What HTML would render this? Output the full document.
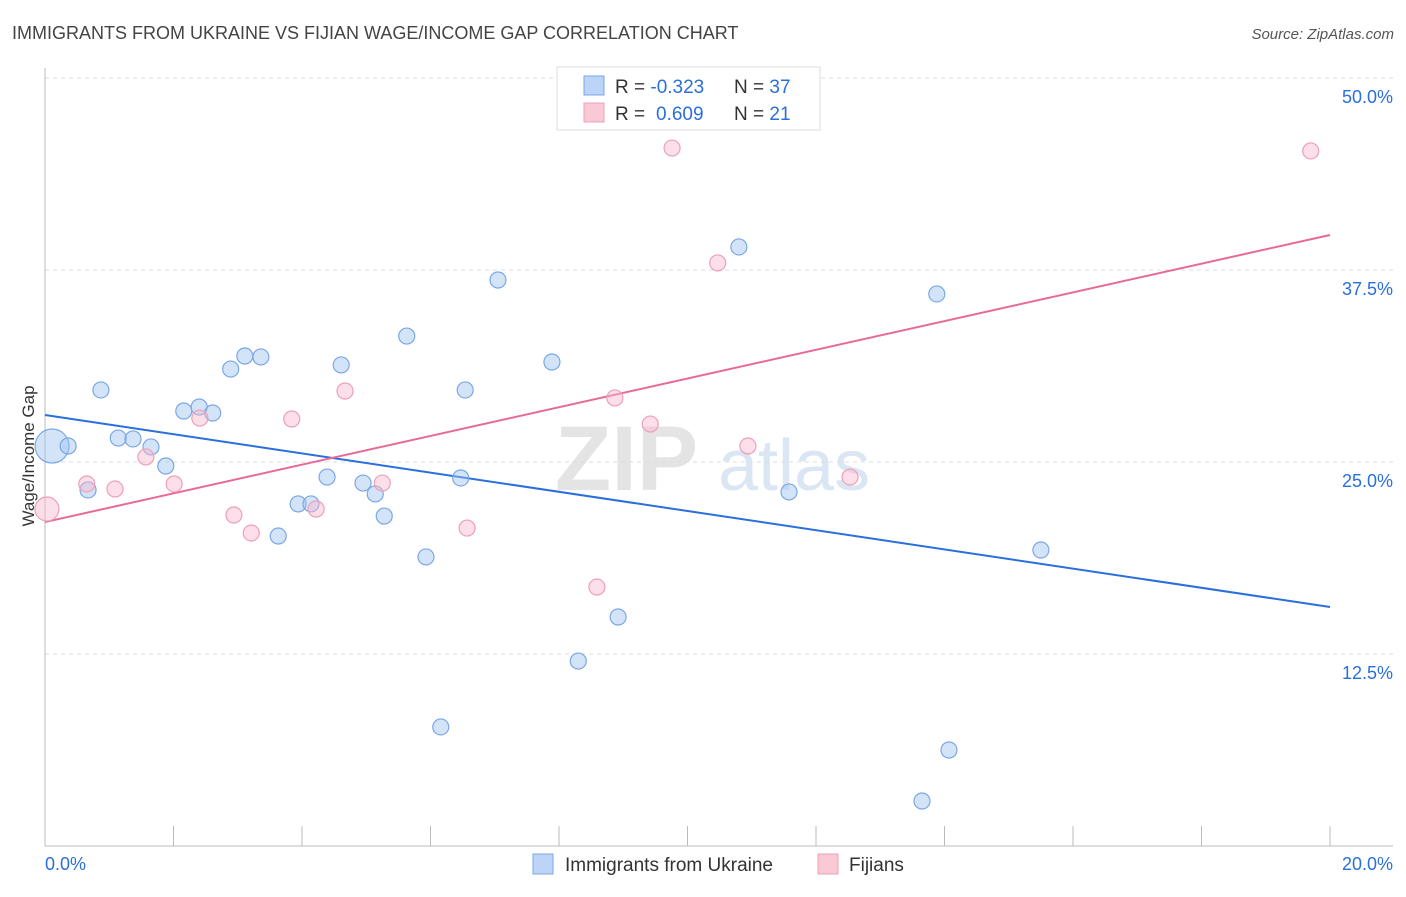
<!DOCTYPE html>
<html><head><meta charset="utf-8"><style>
body{margin:0;background:#fff;font-family:"Liberation Sans",sans-serif;}
svg text{font-family:"Liberation Sans",sans-serif;}
</style></head><body>
<svg id="chart" width="1406" height="892" xmlns="http://www.w3.org/2000/svg">
<text x="12" y="39" font-size="18" fill="#444">IMMIGRANTS FROM UKRAINE VS FIJIAN WAGE/INCOME GAP CORRELATION CHART</text>
<text x="1394" y="39" font-size="15" fill="#555" text-anchor="end" font-style="italic">Source: ZipAtlas.com</text>
<g>
<text x="555" y="490" font-size="92" fill="#e4e4e4" font-family="Liberation Serif" font-weight="bold">ZIP</text>
<text x="718" y="490" font-size="72" fill="#dbe6f5">atlas</text>
</g>
<g id="grid"></g>
<g id="axes"></g>
<g id="lines"></g>
<g id="points"></g>
<text transform="translate(34,456) rotate(-90)" font-size="17" fill="#333" text-anchor="middle">Wage/Income Gap</text>
<g>
<rect x="557" y="67" width="263" height="63" fill="#fff" stroke="#ddd"/>
<rect x="584" y="76" width="20" height="19" fill="#bcd4f5" stroke="#7aa7e6"/>
<rect x="584" y="103" width="20" height="19" fill="#f9c9d6" stroke="#eda0b6"/>
<text x="615" y="93" font-size="19" fill="#333">R = <tspan fill="#2a6fdb">-0.323</tspan><tspan x="734">N = </tspan><tspan fill="#2a6fdb">37</tspan></text>
<text x="615" y="120" font-size="19" fill="#333">R = <tspan x="656" fill="#2a6fdb">0.609</tspan><tspan x="734">N = </tspan><tspan fill="#2a6fdb"> 21</tspan></text>
</g>
<g>
<rect x="533" y="854" width="20" height="20" fill="#bcd4f5" stroke="#7aa7e6"/>
<text x="565" y="871" font-size="19" fill="#333">Immigrants from Ukraine</text>
<rect x="818" y="854" width="20" height="20" fill="#f9c9d6" stroke="#eda0b6"/>
<text x="849" y="871" font-size="19" fill="#333">Fijians</text>
</g>
</svg>
<script>
const ukrX=[0.11,0.36,0.67,0.87,1.14,1.37,1.65,1.88,2.16,2.40,2.61,2.89,3.11,3.36,3.63,3.94,4.14,4.39,4.61,4.95,5.14,5.28,5.63,5.93,6.16,6.47,6.54,7.05,7.89,8.30,8.92,10.80,11.58,13.65,13.88,14.07,15.50];
const ukrY=[26.04,26.04,23.18,29.69,26.56,26.50,25.98,24.74,28.32,28.58,28.19,31.05,31.90,31.84,20.18,22.27,22.27,24.02,31.32,23.63,22.92,21.48,33.20,18.82,7.75,23.96,29.69,36.85,31.51,12.04,14.91,39.00,23.05,2.93,35.94,6.25,19.27];
const fijX=[0.03,0.65,1.09,1.57,2.01,2.41,2.94,3.21,3.84,4.22,4.67,5.25,6.57,8.59,8.87,9.42,9.76,10.47,10.94,12.53,19.70];
const fijY=[21.94,23.57,23.24,25.33,23.57,27.86,21.55,20.38,27.80,21.94,29.62,23.63,20.70,16.86,29.17,27.47,45.44,37.96,26.04,24.02,45.25];
const ukrTrend=[28.06,15.56];
const fijTrend=[21.09,39.78];
const yTicks=[12.5,25,37.5,50];
const xTickLabels=["0.0%","20.0%"];
const ns="http://www.w3.org/2000/svg";
const X=v=>45+v/20*1285, Y=v=>846-v/50*768;
function mk(tag,attrs,parent){const e=document.createElementNS(ns,tag);for(const k in attrs)e.setAttribute(k,attrs[k]);document.getElementById(parent).appendChild(e);return e;}
yTicks.forEach(t=>{
 const l=mk('line',{x1:45,x2:1393,y1:Y(t),y2:Y(t),stroke:'#ddd','stroke-dasharray':'4,4'},'grid');
 
 
 const tx=mk('text',{x:1393,y:Y(t)+25,'font-size':18,fill:'#2a6fdb','text-anchor':'end'},'grid');
 tx.textContent=t.toFixed(1)+'%';
 
 
});
mk('line',{x1:45,x2:45,y1:68,y2:846,stroke:'#bbb'},'axes');
mk('line',{x1:45,x2:1393,y1:846,y2:846,stroke:'#bbb'},'axes');
for(let i=0;i<=10;i++){const t=mk('line',{x1:X(i*2),x2:X(i*2),y1:826,y2:846,stroke:'#bbb'},'axes');
 
 }
[[0,'start'],[20,'end']].forEach((p,i)=>{const t=mk('text',{x:p[0]==0?45:1393,y:870,'font-size':18,fill:'#2a6fdb','text-anchor':p[1]},'axes');t.textContent=xTickLabels[i];
 
 });
const bl=mk('line',{x1:X(0),y1:Y(ukrTrend[0]),x2:X(20),y2:Y(ukrTrend[1]),stroke:'#2a6fdb','stroke-width':2},'lines');


const pl=mk('line',{x1:X(0),y1:Y(fijTrend[0]),x2:X(20),y2:Y(fijTrend[1]),stroke:'#e86a94','stroke-width':2},'lines');


ukrX.forEach((x,i)=>{const c=mk('circle',{cx:X(x),cy:Y(ukrY[i]),r:i==0?17:8,fill:'rgba(160,196,240,0.45)',stroke:'#7aa7e6','stroke-width':1.2},'points');
 
 });
fijX.forEach((x,i)=>{const c=mk('circle',{cx:X(x),cy:Y(fijY[i]),r:i==0?12:8,fill:'rgba(248,184,204,0.45)',stroke:'#eda0b6','stroke-width':1.2},'points');
 
 });
</script>
</body></html>
